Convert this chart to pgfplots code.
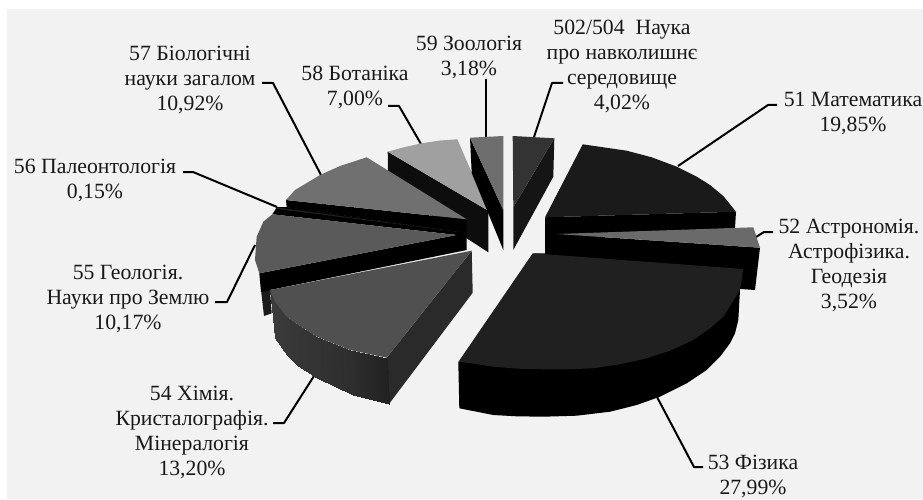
\documentclass[border=0pt]{standalone}
\usepackage{pgfplots}
\pgfplotsset{compat=1.18}
\usepgfplotslibrary{patchplots}
\usepackage{fontspec}
\setmainfont{Liberation Serif}

\definecolor{bgc}{HTML}{F2F2F2}
\definecolor{s502}{HTML}{333333}
\definecolor{s502d}{HTML}{151515}
\definecolor{s59}{HTML}{6E6E6E}
\definecolor{s58}{HTML}{A0A0A0}
\definecolor{s58d}{HTML}{0D0D0D}
\definecolor{s57}{HTML}{707070}
\definecolor{s55}{HTML}{5A5A5A}
\definecolor{s54}{HTML}{505050}
\definecolor{s54d}{HTML}{2A2A2A}
\definecolor{s53}{HTML}{202020}
\definecolor{s52}{HTML}{6A6A6A}
\definecolor{s51}{HTML}{1A1A1A}

\tikzset{
  leader/.style={black, line width=1.5pt, line join=round},
  lab/.style={align=center, inner sep=0pt, text=black!90,
    font=\fontsize{16.3}{18.75}\selectfont},
}

\begin{document}
\begin{tikzpicture}
\begin{axis}[
    hide axis,
    scale only axis,
    width=692.25pt, height=374.25pt,
    xmin=0, xmax=923,
    ymin=0, ymax=499,
    y dir=reverse,
    enlargelimits=false,
    colormap={greys}{gray(0cm)=(0); gray(1cm)=(1)},
    point meta min=0, point meta max=1,
]
% background, white margin on top and left
\addplot[fill=white, draw=none] coordinates {(0,0)(923,0)(923,499)(0,499)} --cycle;
\addplot[fill=bgc, draw=none] coordinates {(7,9)(923,9)(923,499)(7,499)} --cycle;

% leader lines
\addplot[leader] coordinates {(678,166)(768,105)(777,105)};
\addplot[leader] coordinates {(756,237)(764,232)(773,232)};
\addplot[leader] coordinates {(657,397)(694,467)(703,467)};
\addplot[leader] coordinates {(314,376)(284,423)(273,423)};
\addplot[leader] coordinates {(255,245)(227,302)(215,302)};
\addplot[leader] coordinates {(277,207)(193,172)(183,172)};
\addplot[leader] coordinates {(321,175)(273,83)(262,83)};
\addplot[leader] coordinates {(421,144)(399,106)(388,106)};
\addplot[leader] coordinates {(486,137)(486,79)};
\addplot[leader] coordinates {(534,137)(552,83)(563,83)};

% 58 Botany
\addplot[fill=s58d, draw=none] coordinates {(387.7,151.7)(488.3,210.7)(488.3,252.3)(466.7,238.3)(388.3,187)} --cycle;
\addplot[fill=s58, draw=none] coordinates {(387.7,151.7)(405,147)(421.7,143.3)(440,140.5)(457.3,139.3)(488.3,210.7)} --cycle;

% 59 Zoology
\addplot[fill=black, draw=none] coordinates {(470,137.7)(471.7,173)(503.3,250)(503.3,210)} --cycle;
\addplot[fill=s59, draw=none] coordinates {(470,137.7)(503.3,136)(503.3,210)} --cycle;

% 502/504
\addplot[fill=s502d, draw=none] coordinates {(554.3,138.3)(553.3,176.7)(513.3,250)(513.3,207.3)} --cycle;
\addplot[fill=s502, draw=none] coordinates {(512.7,136)(554.3,138.3)(513.3,207.3)} --cycle;

% 51 Mathematics
\addplot[fill=black, draw=none] coordinates {(545,217.3)(736,211.7)(735,228)(545,240)} --cycle;
\addplot[fill=s51, draw=none] coordinates {(582.7,144.3)(626.7,150.7)(651.7,157.3)(676.7,166.7)(696.7,176.7)(710,185)(723.3,196)(736,211.7)(545,217.3)} --cycle;

% 52 Astronomy
\addplot[fill=black, draw=none] coordinates {(556.7,234)(760,247.7)(755,290)(741,289)(532.7,253.3)(545,253.3)(545,234)} --cycle;
\addplot[fill=s52, draw=none] coordinates {(556.7,234)(753.3,227.3)(760,247.7)} --cycle;

% 57 Biology
\addplot[fill=black, draw=none] coordinates {(286,200)(466.7,219.3)(466.7,233.3)(286.7,207.3)} --cycle;
\addplot[fill=s57, draw=none] coordinates {(286,200)(295,190)(320,175)(340,166)(366.7,157.3)(466.7,219.3)} --cycle;

% 56 Palaeontology, almost nothing but its side
\addplot[fill=black, draw=none] coordinates {(277,207)(286.7,207)(466.7,233)(466.7,235)(456.7,235)(272.3,214.3)} --cycle;
\addplot[fill=s53, draw=none] coordinates {(277,207.5)(460,232)(277,209)} --cycle;

% 55 Geology
\addplot[fill=s51, draw=none] coordinates {(261,290)(264,316)(271.7,313.3)(270,290)} --cycle;
\addplot[fill=black, draw=none] coordinates {(259.3,273.3)(456.7,235)(466.7,235)(466.7,250)(270,290)(261,292)} --cycle;
\addplot[fill=s55, draw=none] coordinates {(272.3,214.3)(456.7,235)(259.3,273.3)(255,260)(256,245)(256.7,236.7)(263.3,221.7)} --cycle;

% 54 Chemistry, outer wall goes darker to the right
\addplot[fill=s54d, draw=none] coordinates {(471.7,250.7)(472.7,292.7)(389,404)(386.7,357.7)} --cycle;
\addplot[patch, patch type=rectangle, shader=interp, point meta=explicit] coordinates {
  (270,290) [.23] (275,301.7) [.23] (275,338.3) [.23] (272.7,316.7) [.23]
  (275,301.7) [.23] (286.7,316.7) [.22] (286.7,355) [.22] (275,338.3) [.23]
  (286.7,316.7) [.22] (298.3,325) [.21] (298.3,366) [.21] (286.7,355) [.22]
  (298.3,325) [.21] (316.7,336.7) [.2] (316.7,378.3) [.2] (298.3,366) [.21]
  (316.7,336.7) [.2] (350,350) [.18] (353.3,395) [.18] (316.7,378.3) [.2]
  (350,350) [.18] (386.7,357.7) [.13] (389,404) [.13] (353.3,395) [.18]
};
\addplot[fill=s54, draw=none] coordinates {(270,290)(471.7,250.7)(386.7,357.7)(350,350)(316.7,336.7)(298.3,325)(286.7,316.7)(275,301.7)} --cycle;

% 53 Physics
\addplot[fill=black, draw=none] coordinates {(458.3,362)(459.3,408.3)(493.3,415)(516.7,416.3)(543.3,416.7)(576.7,415.7)(610,411.7)(636.7,405)(660,396.7)(686.7,383.3)(706.7,370)(720,356.7)(730,343.3)(735,333.3)(738.3,320)(740,290)} --cycle;
\addplot[fill=s53, draw=none] coordinates {(532.7,253.3)(743.3,269)(740,290)(731.7,303.3)(723.3,316.7)(710,328.3)(693.3,340)(670,350.7)(646.7,358.3)(620,364.3)(593.3,368.3)(566.7,369.3)(543.3,369.3)(518.3,368.7)(493.3,366.7)(460,361.7)(458.3,362)} --cycle;

% labels
\node[lab] at (axis cs:622,66.5) {502/504 \ Наука\\про навколишнє\\середовище\\4,02\%};
\node[lab] at (axis cs:853,113.5) {51 Математика\\19,85\%};
\node[lab] at (axis cs:849,265.5) {52 Астрономія.\\Астрофізика.\\Геодезія\\3,52\%};
\node[lab] at (axis cs:753,476.5) {53 Фізика\\27,99\%};
\node[lab] at (axis cs:192,432) {54 Хімія.\\Кристалографія.\\Мінералогія\\13,20\%};
\node[lab] at (axis cs:128,298.5) {55 Геологія.\\Науки про Землю\\10,17\%};
\node[lab] at (axis cs:95,180) {56 Палеонтологія\\0,15\%};
\node[lab] at (axis cs:190,80) {57 Біологічні\\науки загалом\\10,92\%};
\node[lab] at (axis cs:355,87.5) {58 Ботаніка\\7,00\%};
\node[lab] at (axis cs:469,57.5) {59 Зоологія\\3,18\%};
\end{axis}
\end{tikzpicture}
\end{document}
